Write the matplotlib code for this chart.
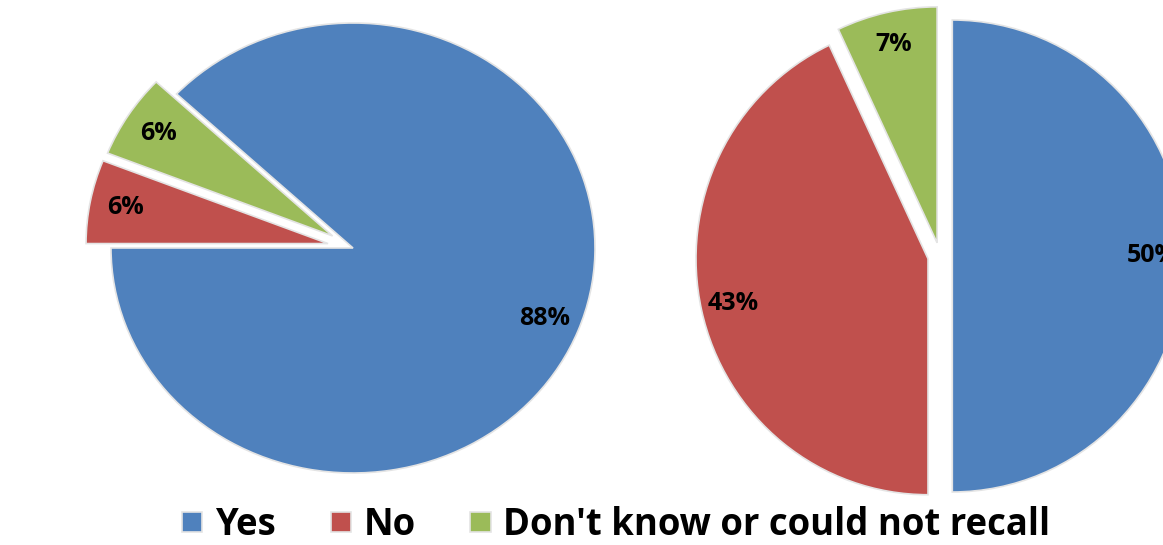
import matplotlib
matplotlib.use("Agg")
import matplotlib.pyplot as plt

# data -----------------------------------------------------------------
categories = ["Yes", "No", "Don't know or could not recall"]
left_values = [88, 6, 6]
right_values = [50, 43, 7]

COLORS = ["#4F81BD", "#C0504D", "#9BBB59"]
W, H = 1163, 545

plt.rcParams["font.family"] = ["Open Sans", "DejaVu Sans"]
plt.rcParams["font.weight"] = "bold"


def draw_pie(fig, values, center, rx, ry, start, explode, pct=0.85):
    # full-figure axes, limits chosen so the pie lands at a pixel centre
    ax = fig.add_axes([0, 0, 1, 1])
    cx, cy = center[0], H - center[1]
    wedges, _, autotexts = ax.pie(
        values, colors=COLORS, startangle=start, counterclock=False,
        explode=explode, autopct="%.0f%%", pctdistance=pct,
        wedgeprops=dict(edgecolor="#e4e4e4", linewidth=1.2),
        textprops=dict(fontsize=18, fontweight="bold", color="black"),
    )
    ax.set_aspect("auto")
    ax.set_xlim(-cx / rx, (W - cx) / rx)
    ax.set_ylim(-cy / ry, (H - cy) / ry)
    ax.axis("off")
    return wedges


fig = plt.figure(figsize=(W / 100, H / 100), dpi=100)
wedges = draw_pie(fig, left_values, (353, 248), 242, 225, 136.8, [0, 0.105, 0.1])
draw_pie(fig, right_values, (940, 256), 232, 236, 90, [0.053, 0.053, 0.057], pct=0.86)

fig.legend(wedges, categories, loc="lower center", ncol=3,
           bbox_to_anchor=(0.53, -0.058), frameon=False,
           prop=dict(size=26.3, weight="bold"),
           handlelength=0.55, handleheight=0.45, handletextpad=0.35,
           columnspacing=1.5)

fig.savefig("out.png", dpi=100)
